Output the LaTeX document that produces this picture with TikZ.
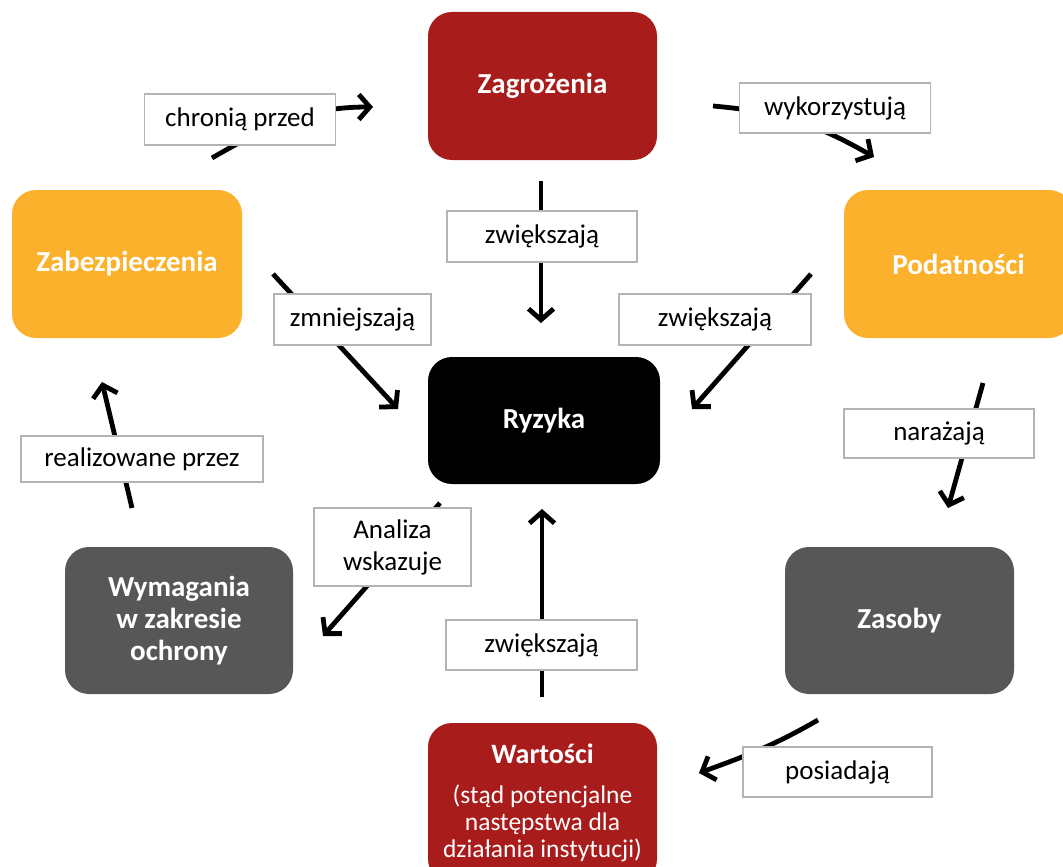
\documentclass[tikz,border=0pt]{standalone}
\usepackage{fontspec}
\setmainfont{Carlito}
\usetikzlibrary{arrows.meta}
\definecolor{cred}{HTML}{A81C1C}
\definecolor{corange}{HTML}{FBB12B}
\definecolor{cgray}{HTML}{575757}
\definecolor{cborder}{HTML}{B4B4B4}
\begin{document}
\begin{tikzpicture}[x=1pt,y=-1pt,
  box/.style={rectangle, rounded corners=24pt, draw=none, text=white, align=center,
    font=\fontsize{29}{32}\selectfont\bfseries, inner sep=0pt},
  lbl/.style={rectangle, draw=cborder, line width=1.5pt, fill=white, align=center,
    font=\fontsize{27}{32}\selectfont, inner sep=0pt},
  arr/.style={line width=4.8pt, -{Straight Barb[length=11pt,width=25pt]}}]
\useasboundingbox (0,0) rectangle (1063,867);
\clip (0,0) rectangle (1063,867);
% boxes
\node[box, fill=cred, minimum width=229pt, minimum height=148pt] (zag) at (542.5,86) {Zagrożenia};
\node[box, fill=corange, minimum width=230pt, minimum height=148pt] (zab) at (127,264) {Zabezpieczenia};
\node[box, fill=corange, minimum width=229pt, minimum height=148pt] (pod) at (958.5,264) {Podatności};
\node[box, fill=black, minimum width=232pt, minimum height=127pt] (ryz) at (544,420.5) {Ryzyka};
\node[box, fill=cgray, minimum width=228pt, minimum height=147pt] (wym) at (179,620.5) {Wymagania\\w zakresie\\ochrony};
\node[box, fill=cgray, minimum width=229pt, minimum height=147pt] (zas) at (899.5,620.5) {Zasoby};
\node[box, fill=cred, minimum width=229pt, minimum height=160pt, font=\fontsize{25.5}{27}\selectfont] (war) at (542.5,803)
  {{\fontsize{28}{30}\selectfont\bfseries Wartości}\\[13pt](stąd potencjalne\\następstwa dla\\działania instytucji)};
% connector end points
\coordinate (a1s) at (212,158); \coordinate (a1e) at (373,107);
\coordinate (a2s) at (713,106); \coordinate (a2e) at (874,157);
\coordinate (a3s) at (541,181); \coordinate (a3e) at (541,323);
\coordinate (a4s) at (273,274); \coordinate (a4e) at (398,409);
\coordinate (a5s) at (811,274); \coordinate (a5e) at (692,409);
\coordinate (a6s) at (983,383); \coordinate (a6e) at (948,508);
\coordinate (a7s) at (132,508); \coordinate (a7e) at (102,382);
\coordinate (a8s) at (440,503); \coordinate (a8e) at (323,636);
\coordinate (a9s) at (542,697); \coordinate (a9e) at (542,509);
\coordinate (a10s) at (818,720); \coordinate (a10e) at (699,773);
% connectors
\draw[arr] (a1s) to[out=30,in=180] (a1e);
\draw[arr] (a2s) to[out=-5,in=150] (a2e);
\draw[arr] (a3s) -- (a3e);
\draw[arr] (a4s) -- (a4e);
\draw[arr] (a5s) -- (a5e);
\draw[arr] (a6s) -- (a6e);
\draw[arr] (a7s) -- (a7e);
\draw[arr] (a8s) -- (a8e);
\draw[arr] (a9s) -- (a9e);
\draw[arr] (a10s) to[out=210,in=20] (a10e);
% labels
\node[lbl, minimum width=191pt, minimum height=51pt] (l1) at (240,119.5) {chronią przed};
\node[lbl, minimum width=191pt, minimum height=50pt] (l2) at (835,108) {wykorzystują};
\node[lbl, minimum width=190pt, minimum height=51pt] (l3) at (542,236.5) {zwiększają};
\node[lbl, minimum width=157pt, minimum height=51pt] (l4) at (352.5,319.5) {zmniejszają};
\node[lbl, minimum width=192pt, minimum height=51pt] (l5) at (715,319.5) {zwiększają};
\node[lbl, minimum width=190pt, minimum height=49pt] (l6) at (939,433.5) {narażają};
\node[lbl, minimum width=242pt, minimum height=46pt] (l7) at (142,459) {realizowane przez};
\node[lbl, minimum width=157pt, minimum height=78pt] (l8) at (392.5,547) {Analiza\\wskazuje};
\node[lbl, minimum width=191pt, minimum height=50pt] (l9) at (541.5,645) {zwiększają};
\node[lbl, minimum width=189pt, minimum height=50pt] (l10) at (837.5,772) {posiadają};
\end{tikzpicture}
\end{document}
